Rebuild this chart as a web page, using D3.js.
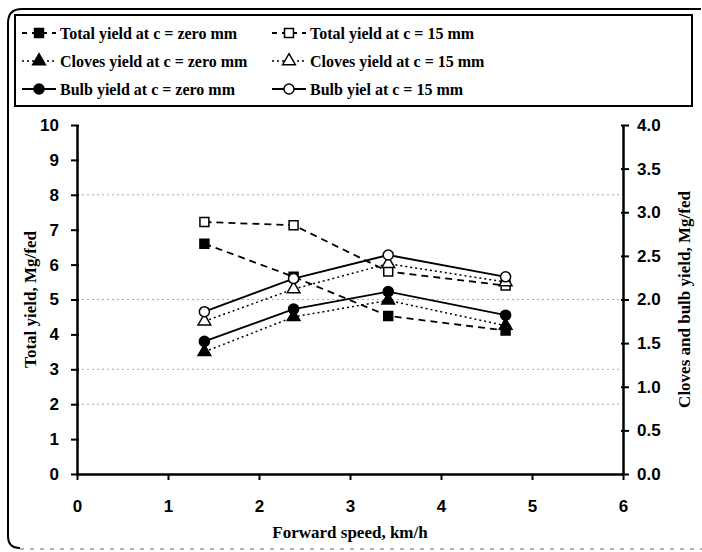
<!DOCTYPE html>
<html>
<head>
<meta charset="utf-8">
<script src="https://cdn.jsdelivr.net/npm/d3@7"></script>
<style>
  body { margin: 0; background: #fff; }
  svg { display: block; font-family: "Liberation Serif", "Times New Roman", serif; font-weight: bold; }
</style>
</head>
<body>
<div id="chart"></div>
<script>
const width = 702, height = 552;
const margin = {top: 125, right: 79, bottom: 78, left: 77};

// forward speed, km/h
const speeds = [1.40, 2.38, 3.42, 4.71];
// left axis, Mg/fed
const totalZero = [6.60, 5.65, 4.53, 4.11];
const total15 = [7.22, 7.13, 5.80, 5.40];
// right axis, Mg/fed
const clovesZero = [1.40, 1.80, 1.99, 1.70];
const cloves15 = [1.75, 2.12, 2.41, 2.20];
const bulbZero = [1.52, 1.89, 2.09, 1.82];
const bulb15 = [1.86, 2.24, 2.51, 2.26];

const xTicks = [0, 1, 2, 3, 4, 5, 6];
const yTicks = [0, 1, 2, 3, 4, 5, 6, 7, 8, 9, 10];
const y2Ticks = [0, 0.5, 1, 1.5, 2, 2.5, 3, 3.5, 4];
const gridValues = [2, 3, 5, 8];

const series = [
  {name: "Total yield at c = zero mm", values: totalZero, axis: "left", dash: "7,5", symbol: "square", fill: true},
  {name: "Total yield at c = 15 mm", values: total15, axis: "left", dash: "7,5", symbol: "square", fill: false},
  {name: "Cloves yield at c = zero mm", values: clovesZero, axis: "right", dash: "2,3", symbol: "triangle", fill: true},
  {name: "Cloves yield at c = 15 mm", values: cloves15, axis: "right", dash: "2,3", symbol: "triangle", fill: false},
  {name: "Bulb yield at c = zero mm", values: bulbZero, axis: "right", dash: null, symbol: "circle", fill: true},
  {name: "Bulb yiel at c = 15 mm", values: bulb15, axis: "right", dash: null, symbol: "circle", fill: false}
];

const svg = d3.select("#chart").append("svg")
  .attr("width", width).attr("height", height);

// outer frame
svg.append("path")
  .attr("d", "M 701 9 L 22 9 Q 8 9 8 23 L 8 536 Q 8 548 20 548")
  .attr("fill", "none").attr("stroke", "#000").attr("stroke-width", 2);
svg.append("line")
  .attr("x1", 20).attr("x2", 702).attr("y1", 549).attr("y2", 549)
  .attr("stroke", "#999").attr("stroke-width", 1.5).attr("stroke-dasharray", "4,6");

const x = d3.scaleLinear().domain([0, 6]).range([margin.left, width - margin.right]);
const y = d3.scaleLinear().domain([0, 10]).range([height - margin.bottom, margin.top]);
const y2 = d3.scaleLinear().domain([0, 4]).range([height - margin.bottom, margin.top]);

// dotted grid
svg.append("g").selectAll("line").data(gridValues).join("line")
  .attr("x1", x(0)).attr("x2", x(6))
  .attr("y1", d => y(d)).attr("y2", d => y(d))
  .attr("stroke", "#aaa").attr("stroke-width", 1).attr("stroke-dasharray", "2,3");

const fmt1 = d3.format(".1f");

svg.append("g")
  .attr("transform", `translate(${margin.left},0)`)
  .call(d3.axisLeft(y).tickValues(yTicks).tickFormat(d3.format("d")).tickSize(6).tickSizeOuter(0).tickPadding(12))
  .call(g => g.select(".domain").attr("stroke-width", 2.5))
  .call(g => g.selectAll(".tick line").attr("stroke-width", 2).attr("x2", -6).attr("x1", 2))
  .call(g => g.selectAll(".tick text").attr("font-size", 17).attr("fill", "#000"));

svg.append("g")
  .attr("transform", `translate(${width - margin.right},0)`)
  .call(d3.axisRight(y2).tickValues(y2Ticks).tickFormat(fmt1).tickSize(6).tickSizeOuter(0).tickPadding(8))
  .call(g => g.select(".domain").attr("stroke-width", 2.5))
  .call(g => g.selectAll(".tick line").attr("stroke-width", 2).attr("x1", -2))
  .call(g => g.selectAll(".tick text").attr("font-size", 17).attr("fill", "#000"));

svg.append("g")
  .attr("transform", `translate(0,${height - margin.bottom})`)
  .call(d3.axisBottom(x).tickValues(xTicks).tickFormat(d3.format("d")).tickSize(6).tickSizeOuter(0).tickPadding(20))
  .call(g => g.select(".domain").attr("stroke-width", 2.5))
  .call(g => g.selectAll(".tick line").attr("stroke-width", 2))
  .call(g => g.selectAll(".tick text").attr("font-size", 17).attr("fill", "#000"));

// axis titles
svg.append("text")
  .attr("x", (x(0) + x(6)) / 2).attr("y", 538)
  .attr("text-anchor", "middle").attr("font-size", 17)
  .text("Forward speed, km/h");
svg.append("text")
  .attr("transform", `translate(36,${(y(0) + y(10)) / 2}) rotate(-90)`)
  .attr("text-anchor", "middle").attr("font-size", 17)
  .text("Total yield, Mg/fed");
svg.append("text")
  .attr("transform", `translate(690,${(y(0) + y(10)) / 2}) rotate(-90)`)
  .attr("text-anchor", "middle").attr("font-size", 17)
  .text("Cloves and bulb yield, Mg/fed");

const symbolType = {square: d3.symbolSquare, triangle: d3.symbolTriangle, circle: d3.symbolCircle};

function drawMarker(g, s, cx, cy) {
  g.append("path")
    .attr("transform", `translate(${cx},${cy})`)
    .attr("d", d3.symbol(symbolType[s.symbol], s.symbol === "triangle" ? 70 : 80)())
    .attr("fill", s.fill ? "#000" : "#fff")
    .attr("stroke", "#000").attr("stroke-width", 1.5);
}

// lines
series.forEach(s => {
  const sc = s.axis === "left" ? y : y2;
  const line = d3.line().x((d, i) => x(speeds[i])).y(d => sc(d));
  svg.append("path")
    .datum(s.values)
    .attr("fill", "none").attr("stroke", "#000")
    .attr("stroke-width", s.dash === "2,3" ? 1.5 : 1.8)
    .attr("stroke-dasharray", s.dash)
    .attr("d", line);
});
// markers
series.forEach(s => {
  const sc = s.axis === "left" ? y : y2;
  const g = svg.append("g");
  s.values.forEach((v, i) => drawMarker(g, s, x(speeds[i]), sc(v)));
});

// legend
const legend = svg.append("g");
legend.append("rect")
  .attr("x", 15).attr("y", 15).attr("width", 677).attr("height", 91)
  .attr("fill", "#fff").attr("stroke", "#000").attr("stroke-width", 2);

series.forEach((s, i) => {
  const col = i % 2, row = Math.floor(i / 2);
  const lx = col === 0 ? 22 : 272;
  const ly = 33 + row * 28;
  const item = legend.append("g");
  item.append("line")
    .attr("x1", lx).attr("x2", lx + 34).attr("y1", ly).attr("y2", ly)
    .attr("stroke", "#000").attr("stroke-width", s.dash === "2,3" ? 1.5 : 1.8)
    .attr("stroke-dasharray", s.dash === "7,5" ? "5,5" : s.dash);
  drawMarker(item, s, lx + 17, ly);
  item.append("text")
    .attr("x", lx + 38).attr("y", ly).attr("dy", "0.35em")
    .attr("font-size", 16)
    .text(s.name);
});
</script>
</body>
</html>
